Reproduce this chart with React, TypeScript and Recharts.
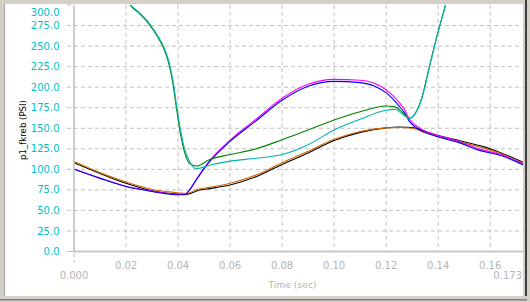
import { LineChart, Line, XAxis, YAxis, CartesianGrid } from "recharts";

// axis ticks
const xTicks = [0, 0.02, 0.04, 0.06, 0.08, 0.1, 0.12, 0.14, 0.16, 0.173];
const yTicks = [0, 25, 50, 75, 100, 125, 150, 175, 200, 225, 250, 275, 300];
const gridY = [25, 50, 75, 100, 125, 150, 175, 200, 225, 250, 275];
const gridX = [0.02, 0.04, 0.06, 0.08, 0.1, 0.12, 0.14, 0.16];

// lower pair (black / orange)
const lowTime = [0, 0.01, 0.02, 0.03, 0.04, 0.043, 0.048, 0.052, 0.06, 0.07, 0.08, 0.09, 0.1, 0.11, 0.12, 0.125, 0.13, 0.135, 0.142, 0.148, 0.158, 0.165, 0.173];
const lowBlack = [108, 95, 83, 74, 70, 69.5, 74.5, 76.5, 81, 91, 106, 120, 135, 145, 150.5, 151.5, 151, 146, 139.5, 135, 127, 119, 108];
const lowOrange = [109.5, 96, 84.5, 75.5, 71.5, 70.5, 76, 78, 83, 93, 108, 122, 136.5, 146, 150.5, 151, 150, 144.5, 138, 133.5, 125.5, 118, 107];

// hump pair (blue / magenta)
const humpTime = [0, 0.01, 0.02, 0.03, 0.04, 0.0425, 0.0445, 0.047, 0.0515, 0.06, 0.07, 0.08, 0.09, 0.1, 0.11, 0.117, 0.12, 0.1225, 0.125, 0.127, 0.129, 0.133, 0.139, 0.148, 0.155, 0.165, 0.173];
const humpBlue = [100, 89, 79, 73, 69, 69, 75, 87, 107, 134, 159, 184, 201, 207, 205.5, 199, 193, 186, 177, 169, 158, 148, 140.5, 132.5, 124, 116, 105];
const humpMagenta = [100.5, 89.5, 79.5, 73.5, 69.5, 69.5, 75.5, 88, 108, 135.5, 161, 186.5, 203.5, 209.5, 208.5, 202.5, 196.5, 190, 181.5, 173, 161, 150, 142, 134, 125.5, 117, 106];

// overshoot pair (green / cyan)
const overTime = [0.012, 0.0215, 0.025, 0.029, 0.032, 0.0345, 0.0365, 0.038, 0.0395, 0.041, 0.0425, 0.0445, 0.0471, 0.0522, 0.06, 0.07, 0.08, 0.09, 0.1, 0.11, 0.12, 0.1235, 0.126, 0.1288, 0.1336, 0.1367, 0.1399, 0.1428, 0.148];
const overGreen = [380, 300, 290, 276, 262, 247, 228, 205, 172, 142, 121, 107, 104, 112, 118, 125, 136, 148, 160, 170, 177, 176, 170, 162, 186, 226, 267, 300, 380];
const overCyan = [380, 301, 291, 277.5, 263.5, 249, 231, 209, 177, 147, 125, 109, 101, 105, 110, 113.5, 118, 130, 148, 161, 172, 173, 168, 162, 185, 225, 266, 300, 380];

const toPoints = (t: number[], v: number[]) => t.map((time, i) => ({ time, value: v[i] }));

const FONT = "DejaVu Sans";

function YTick(props: any) {
  const { y, payload } = props;
  const ty = Math.max(y, 12.7);
  return (
    <g>
      <line x1={67} x2={74} y1={y} y2={y} stroke="#c0c0c0" strokeDasharray={payload.value === 0 ? undefined : "4 3"} />
      <text x={59.5} y={ty} dy={3.6} textAnchor="end" fill="#00c0c4" fontSize={10} fontFamily={FONT}>
        {payload.value.toFixed(1)}
      </text>
    </g>
  );
}

function XTick(props: any) {
  const { x, payload } = props;
  const v = payload.value as number;
  const edge = v === 0 || v === 0.173;
  const label = edge ? v.toFixed(3) : v.toFixed(2);
  return (
    <g>
      {v === 0 && <line x1={x} x2={x} y1={253} y2={263} stroke="#c0c0c0" strokeDasharray="4 3" />}
      <text
        x={v === 0.173 ? 522 : x}
        y={edge ? 278.5 : 268.5}
        textAnchor={v === 0.173 ? "end" : "middle"}
        fill="#b4b4b4"
        fontSize={10}
        fontFamily={FONT}
      >
        {label}
      </text>
    </g>
  );
}

export default function App() {
  return (
    <div style={{ position: "absolute", left: 0, top: 0, width: 530, height: 302, background: "#d4d0c8", overflow: "hidden" }}>
      <div style={{ position: "absolute", left: 4, top: 4, width: 519, height: 292, background: "#fff", borderLeft: "1px solid #a0a0a0", boxSizing: "border-box" }} />
      <div style={{ position: "absolute", left: 0, top: 0 }}>
        <LineChart width={530} height={302} margin={{ top: 5, right: 6, bottom: 0, left: 0 }}>
          <CartesianGrid stroke="#c0c0c0" strokeDasharray="4 3" horizontalValues={gridY} verticalValues={gridX} />
          <XAxis
            dataKey="time"
            type="number"
            domain={[0, 0.173]}
            ticks={xTicks}
            tick={<XTick />}
            tickLine={false}
            axisLine={{ stroke: "#c8c8c8", strokeWidth: 2 }}
            height={50.5}
            interval={0}
          />
          <YAxis
            type="number"
            domain={[0, 300]}
            ticks={yTicks}
            allowDataOverflow
            tick={<YTick />}
            tickLine={false}
            axisLine={{ stroke: "#bcbcbc", strokeWidth: 1.5 }}
            width={74}
            interval={0}
          />
          <Line data={toPoints(lowTime, lowBlack)} dataKey="value" type="monotone" stroke="#000000" strokeWidth={1.1} dot={false} isAnimationActive={false} />
          <Line data={toPoints(lowTime, lowOrange)} dataKey="value" type="monotone" stroke="#d06a00" strokeWidth={1.1} dot={false} isAnimationActive={false} />
          <Line data={toPoints(humpTime, humpMagenta)} dataKey="value" type="monotone" stroke="#ff00ff" strokeWidth={1.1} dot={false} isAnimationActive={false} />
          <Line data={toPoints(humpTime, humpBlue)} dataKey="value" type="monotone" stroke="#0000ff" strokeWidth={1.1} dot={false} isAnimationActive={false} />
          <Line data={toPoints(overTime, overGreen)} dataKey="value" type="monotone" stroke="#008000" strokeWidth={1.1} dot={false} isAnimationActive={false} />
          <Line data={toPoints(overTime, overCyan)} dataKey="value" type="monotone" stroke="#00b4b4" strokeWidth={1.1} dot={false} isAnimationActive={false} />
        </LineChart>
      </div>
      <svg width={530} height={302} style={{ position: "absolute", left: 0, top: 0, pointerEvents: "none" }}>
        <text x={292.5} y={287.5} textAnchor="middle" fill="#b4b4b4" fontSize={9.2} fontFamily={FONT}>
          Time (sec)
        </text>
        <text transform="translate(25.5,130) rotate(-90)" textAnchor="middle" fill="#000" fontSize={8.6} fontFamily={FONT}>
          p1_fkreb (PSI)
        </text>
        <rect x={523} y={0} width={7} height={302} fill="#d4d0c8" />
        <rect x={525} y={0} width={2} height={301} fill="#404040" />
        <rect x={0} y={296} width={530} height={6} fill="#d4d0c8" />
        <rect x={0} y={299} width={527} height={1.5} fill="#808080" />
      </svg>
    </div>
  );
}
